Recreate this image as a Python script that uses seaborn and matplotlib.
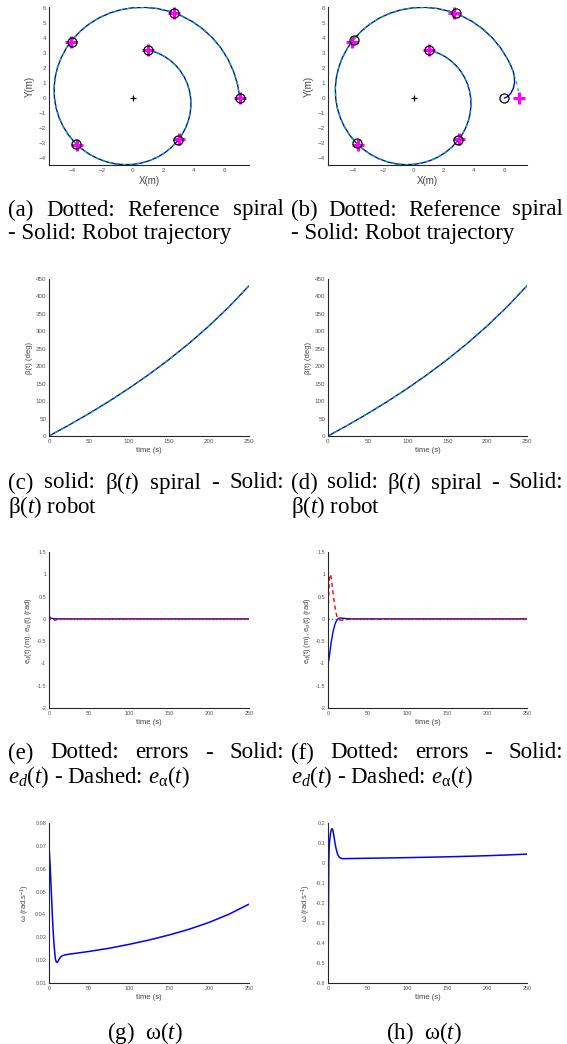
import matplotlib
matplotlib.use('Agg')
import matplotlib.pyplot as plt
import seaborn as sns

# ---- data ----
# reference spiral (x, y) in metres, from the outer start point inward
spiral_x = [7.000, 6.852, 6.590, 6.223, 5.759, 5.208, 4.583, 3.895, 3.159, 2.386,
            1.594, 0.793, 0.000, -0.773, -1.514, -2.210, -2.850, -3.426, -3.929, -4.352,
            -4.690, -4.939, -5.098, -5.166, -5.144, -5.035, -4.843, -4.573, -4.232, -3.828,
            -3.368, -2.862, -2.321, -1.754, -1.171, -0.583, 0.000, 0.568, 1.112, 1.624,
            2.095, 2.518, 2.887, 3.198, 3.447, 3.630, 3.747, 3.796, 3.781, 3.700,
            3.559, 3.361, 3.110, 2.813, 2.475, 2.104, 1.706, 1.374, 0.999]
spiral_y = [0.000, 0.902, 1.766, 2.578, 3.325, 3.997, 4.583, 5.077, 5.471, 5.761,
            5.947, 6.026, 6.001, 5.873, 5.650, 5.335, 4.937, 4.465, 3.929, 3.339,
            2.708, 2.046, 1.366, 0.680, 0.000, -0.663, -1.298, -1.894, -2.444, -2.937,
            -3.368, -3.730, -4.020, -4.234, -4.371, -4.429, -4.410, -4.317, -4.152, -3.920,
            -3.628, -3.281, -2.887, -2.454, -1.990, -1.504, -1.004, -0.500, 0.000, 0.487,
            0.954, 1.392, 1.796, 2.159, 2.475, 2.742, 2.955, 3.085, 3.186]

# robot trajectory in (b): starts off the spiral, then joins it
robot_b_x = [6.00, 6.20, 6.42, 6.60, 6.68, 6.66, 6.58, 6.42, 6.223, 5.759, 5.208, 4.583,
             3.895, 3.159, 2.386, 1.594, 0.793, 0.000, -0.773, -1.514, -2.210, -2.850,
             -3.426, -3.929, -4.352, -4.690, -4.939, -5.098, -5.166, -5.144, -5.035, -4.843,
             -4.573, -4.232, -3.828, -3.368, -2.862, -2.321, -1.754, -1.171, -0.583, 0.000,
             0.568, 1.112, 1.624, 2.095, 2.518, 2.887, 3.198, 3.447, 3.630, 3.747, 3.796,
             3.781, 3.700, 3.559, 3.361, 3.110, 2.813, 2.475, 2.104, 1.706, 1.374, 1.040]
robot_b_y = [0.00, 0.08, 0.30, 0.65, 1.05, 1.45, 1.80, 2.18, 2.578, 3.325, 3.997, 4.583,
             5.077, 5.471, 5.761, 5.947, 6.026, 6.001, 5.873, 5.650, 5.335, 4.937,
             4.465, 3.929, 3.339, 2.708, 2.046, 1.366, 0.680, 0.000, -0.663, -1.298,
             -1.894, -2.444, -2.937, -3.368, -3.730, -4.020, -4.234, -4.371, -4.429, -4.410,
             -4.317, -4.152, -3.920, -3.628, -3.281, -2.887, -2.454, -1.990, -1.504, -1.004,
             -0.500, 0.000, 0.487, 0.954, 1.392, 1.796, 2.159, 2.475, 2.742, 2.955, 3.085,
             3.180]

# markers every 50 s
ref_mark_x = [7.0, 2.7, -4.05, -3.65, 3.0, 1.0]
ref_mark_y = [0.0, 5.65, 3.75, -3.1, -2.75, 3.2]
rob_a_x = [7.0, 2.7, -4.0, -3.7, 2.95, 1.0]
rob_a_y = [0.0, 5.65, 3.75, -3.05, -2.8, 3.2]
rob_b_x = [5.98, 2.8, -3.96, -3.74, 2.94, 1.04]
rob_b_y = [0.0, 5.62, 3.88, -3.0, -2.82, 3.18]

# beta(t) in degrees
t_beta = [0, 25, 50, 75, 100, 125, 150, 175, 200, 225, 250]
beta_deg = [0, 31.3, 64.4, 99.4, 136.7, 176.5, 219.3, 265.4, 315.5, 370.2, 430.7]

# errors, case (e)
t_err_e = [0, 1, 2, 4, 6, 8, 10, 14, 20, 250]
ed_e = [0.02, 0.02, 0.015, 0.01, 0.005, 0.0, 0.0, 0.0, 0.0, 0.0]
ea_e = [0.08, 0.05, 0.0, -0.02, -0.03, -0.03, -0.01, 0.0, 0.0, 0.0]

# errors, case (f)
t_err_f = [0, 1, 2, 3, 4, 5, 6, 7, 8, 9, 10, 11, 12, 13, 14, 16, 18, 20, 24, 30, 250]
ed_f = [-1.0, -0.93, -0.8, -0.66, -0.53, -0.42, -0.32, -0.24, -0.17, -0.11, -0.07,
        -0.035, -0.01, 0.005, 0.015, 0.02, 0.015, 0.01, 0.005, 0.0, 0.0]
ea_f = [0.0, 0.6, 0.98, 1.0, 0.92, 0.78, 0.62, 0.48, 0.35, 0.24, 0.14, 0.07, 0.02,
        -0.01, -0.02, -0.03, -0.03, -0.025, -0.015, -0.005, 0.0]
t_zero = [0, 250]
zero_line = [0, 0]

# omega(t), case (g)
t_w_g = [0, 1, 2, 3, 4, 5, 6, 7, 8, 9, 10, 11, 12, 14, 16, 18, 20, 25,
         50, 75, 100, 125, 150, 175, 200, 225, 250]
w_g = [0.0705, 0.064, 0.057, 0.049, 0.041, 0.034, 0.028, 0.024, 0.0205, 0.0193, 0.019,
       0.0193, 0.0200, 0.0212, 0.0218, 0.0221, 0.0223, 0.0226,
       0.0238, 0.0252, 0.0269, 0.0288, 0.0310, 0.0335, 0.0365, 0.0401, 0.0445]

# omega(t), case (h)
t_w_h = [0, 0.5, 1, 1.5, 2, 3, 4, 5, 6, 7, 8, 9, 10, 11, 12, 13, 14, 16, 18, 20, 25,
         50, 75, 100, 125, 150, 175, 200, 225, 250]
w_h = [-0.6, -0.3, 0.0, 0.08, 0.11, 0.145, 0.165, 0.172, 0.165, 0.145, 0.12, 0.095,
       0.075, 0.058, 0.045, 0.036, 0.03, 0.024, 0.022, 0.0215, 0.0222,
       0.0238, 0.0252, 0.0269, 0.0288, 0.0310, 0.0335, 0.0365, 0.0401, 0.0445]

# ---- style ----
sns.set_theme(style='white')
plt.rcParams['font.family'] = ['Liberation Sans', 'DejaVu Sans']
plt.rcParams['mathtext.fontset'] = 'custom'
plt.rcParams['mathtext.rm'] = 'Liberation Serif'
plt.rcParams['mathtext.it'] = 'Liberation Serif:italic'
plt.rcParams['mathtext.sf'] = 'Liberation Sans'

W, H = 567, 1044
fig = plt.figure(figsize=(W / 100, H / 100), dpi=100)

BLUE, GREEN, RED, MAG = '#0000ff', '#00cc00', '#ff0000', '#ff00ff'
SPINE, TICKC = '#262626', '#555555'


def box(x0, y0, x1, y1):
    return [x0 / W, 1 - y1 / H, (x1 - x0) / W, (y1 - y0) / H]


def style_ax(ax, tsize):
    sns.despine(ax=ax)
    for s in ['left', 'bottom']:
        ax.spines[s].set_color(SPINE)
        ax.spines[s].set_linewidth(0.8)
    ax.tick_params(direction='in', length=2.5, width=0.6, colors=SPINE,
                   labelcolor=TICKC, labelsize=tsize, pad=2)
    ax.grid(False)


def line(ax, x, y, **kw):
    sns.lineplot(x=x, y=y, sort=False, estimator=None, ax=ax, **kw)


# spiral panels
for x0, x1, xl, rx, ry, rmx, rmy in [
        (49, 249, (-5.5, 7.6), spiral_x, spiral_y, rob_a_x, rob_a_y),
        (328, 527, (-5.65, 7.5), robot_b_x, robot_b_y, rob_b_x, rob_b_y)]:
    ax = fig.add_axes(box(x0, 7, x1, 165))
    line(ax, rx, ry, color=BLUE, linewidth=1.0)
    line(ax, spiral_x, spiral_y, color=GREEN, linewidth=0.9, linestyle=(0, (2.5, 3)))
    ax.plot(ref_mark_x, ref_mark_y, '+', color=MAG, ms=8, mew=2.2, ls='none')
    ax.plot(rmx, rmy, 'o', mfc='none', mec='black', ms=6.5, mew=0.9, ls='none')
    ax.plot([0], [0], '+', color='black', ms=5, mew=0.9)
    ax.set_xlim(*xl)
    ax.set_ylim(-4.45, 6.05)
    ax.set_xticks([-4, -2, 0, 2, 4, 6])
    ax.set_yticks(range(-4, 7))
    style_ax(ax, 4.5)
    ax.set_xlabel('X(m)', fontsize=7, color='#444444', labelpad=2)
    ax.set_ylabel('Y(m)', fontsize=7, color='#444444', labelpad=3)

# beta panels
for x0, x1 in [(49, 249), (328, 527)]:
    ax = fig.add_axes(box(x0, 279, x1, 436))
    line(ax, t_beta, beta_deg, color=BLUE, linewidth=1.0)
    line(ax, t_beta, beta_deg, color=GREEN, linewidth=0.9, linestyle=(0, (2.5, 3)))
    ax.set_xlim(0, 250)
    ax.set_ylim(0, 450)
    ax.set_xticks(range(0, 251, 50))
    ax.set_yticks(range(0, 451, 50))
    style_ax(ax, 4.5)
    ax.set_xlabel('time (s)', fontsize=5.5, color='#444444', labelpad=2)
    ax.set_ylabel('β(t) (deg)', fontsize=5.5, color='#444444', labelpad=2)

# error panels
for x0, x1, te, ed, ea in [(49, 249, t_err_e, ed_e, ea_e), (328, 527, t_err_f, ed_f, ea_f)]:
    ax = fig.add_axes(box(x0, 552, x1, 708))
    line(ax, t_zero, zero_line, color=GREEN, linewidth=1.0, linestyle=(0, (1, 1.5)))
    line(ax, te, ed, color=BLUE, linewidth=1.0)
    line(ax, te, ea, color=RED, linewidth=1.0, linestyle=(0, (3, 2.5)))
    ax.set_xlim(0, 250)
    ax.set_ylim(-2, 1.5)
    ax.set_xticks(range(0, 251, 50))
    ax.set_yticks([-2, -1.5, -1, -0.5, 0, 0.5, 1, 1.5])
    ax.set_yticklabels(['-2', '-1.5', '-1', '-0.5', '0', '0.5', '1', '1.5'])
    style_ax(ax, 4)
    ax.set_xlabel('time (s)', fontsize=5.5, color='#444444', labelpad=2)
    ax.set_ylabel(r'e$_{\mathregular{d}}$(t) (m), e$_{\mathregular{\alpha}}$(t) (rad)',
                  fontsize=5.5, color='#444444', labelpad=2)

# omega panels
for x0, x1, tw, wv, yl, yt in [
        (49, 249, t_w_g, w_g, (0.01, 0.08), [0.01, 0.02, 0.03, 0.04, 0.05, 0.06, 0.07, 0.08]),
        (328, 527, t_w_h, w_h, (-0.6, 0.2), [-0.6, -0.5, -0.4, -0.3, -0.2, -0.1, 0, 0.1, 0.2])]:
    ax = fig.add_axes(box(x0, 823, x1, 983))
    line(ax, tw, wv, color=BLUE, linewidth=1.1)
    ax.set_xlim(0, 250)
    ax.set_ylim(*yl)
    ax.set_xticks(range(0, 251, 50))
    ax.set_yticks(yt)
    ax.set_yticklabels([('%g' % v) for v in yt])
    style_ax(ax, 4)
    ax.set_xlabel('time (s)', fontsize=5.5, color='#444444', labelpad=2)
    ax.set_ylabel(r'ω (rad.s$^{\mathregular{-1}}$)', fontsize=5.5, color='#444444', labelpad=2)

# ---- captions ----
CAP = dict(fontsize=16.5, family='Liberation Serif', color='black', va='center')
renderer = fig.canvas.get_renderer()


def justify(words, x0, x1, y):
    texts = [fig.text(0, 1 - y / H, w, **CAP) for w in words]
    widths = [t.get_window_extent(renderer).width for t in texts]
    gap = (x1 - x0 - sum(widths)) / (len(words) - 1)
    x = x0
    for t, wd in zip(texts, widths):
        t.set_x(x / W)
        x += wd + gap


def plain(s, x, y, ha='left'):
    fig.text(x / W, 1 - y / H, s, ha=ha, **CAP)


for lx0, lx1, tag in [(8, 284, 'a'), (291, 563, 'b')]:
    justify(['(%s)' % tag, 'Dotted:', 'Reference', 'spiral'], lx0, lx1, 210)
    plain('- Solid: Robot trajectory', lx0, 233)
for lx0, lx1, tag in [(8, 284, 'c'), (291, 563, 'd')]:
    justify(['(%s)' % tag, 'solid:', r'β$(t)$', 'spiral', '-', 'Solid:'], lx0, lx1, 483)
    plain(r'β$(t)$ robot', lx0, 507)
for lx0, lx1, tag in [(8, 284, 'e'), (291, 563, 'f')]:
    justify(['(%s)' % tag, 'Dotted:', 'errors', '-', 'Solid:'], lx0, lx1, 753)
    plain(r'$e_d(t)$ - Dashed: $e_{\mathrm{\alpha}}(t)$', lx0, 777)
plain(r'(g)  ω$(t)$', 145, 1033, ha='center')
plain(r'(h)  ω$(t)$', 424, 1033, ha='center')

fig.savefig('out.png', dpi=100)
